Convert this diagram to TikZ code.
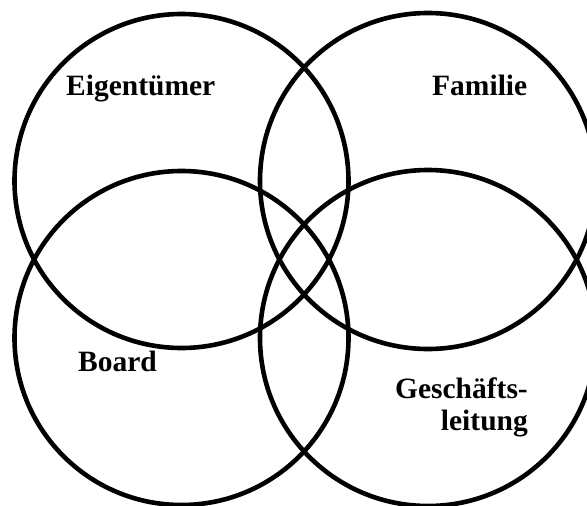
\documentclass[tikz,border=0pt]{standalone}
\usepackage{fontspec}
\setmainfont{Liberation Serif}
\begin{document}
\begin{tikzpicture}[x=1pt,y=-1pt,
  ring/.style={draw=black,line width=4.6pt},
  lbl/.style={font=\bfseries\fontsize{29.5}{32}\selectfont,inner sep=0pt}]
\useasboundingbox (0,0) rectangle (587,506);
\clip (0,0) rectangle (587,506);
\fill[white] (0,0) rectangle (587,506);
\coordinate (ctl) at (181.5,181);
\coordinate (ctr) at (428,181);
\coordinate (cbl) at (181.5,338);
\coordinate (cbr) at (428,338);
\draw[ring] (ctl) circle[radius=167];
\draw[ring] (ctr) circle[radius=168];
\draw[ring] (cbl) circle[radius=167];
\draw[ring] (cbr) circle[radius=168];
\node[lbl,anchor=base west] (eig) at (66,95) {Eigentümer};
\node[lbl,anchor=base west] (fam) at (432,95) {Familie};
\node[lbl,anchor=base west] (board) at (78,371) {Board};
\node[lbl,anchor=base east,align=right] (gl) at (528,430) {Geschäfts-\\leitung};
\end{tikzpicture}
\end{document}
